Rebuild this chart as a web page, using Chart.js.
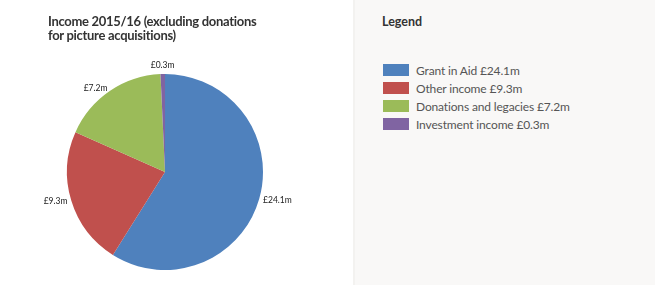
<!DOCTYPE html>
<html>
<head>
<meta charset="utf-8">
<script src="https://cdn.jsdelivr.net/npm/chart.js@4"></script>
<style>
  body { margin: 0; width: 655px; height: 285px; overflow: hidden; background: #fff; font-family: Lato, "Noto Sans", sans-serif; }
  #left { position: absolute; left: 0; top: 0; width: 353px; height: 285px; background: #fff; }
  #right { position: absolute; left: 353px; top: 0; width: 302px; height: 285px; background: #f9f8f7; border-left: 2px solid #f3f2f0; box-sizing: border-box; }
  #title { position: absolute; left: 48px; top: 15px; font-size: 13px; font-weight: 700; line-height: 13.5px; letter-spacing: -0.3px; color: #333; }
  #legendTitle { position: absolute; left: 27px; top: 14px; font-size: 12.5px; font-weight: 700; color: #333; }
  #legend { position: absolute; left: 28px; top: 61px; }
  .row { height: 18px; display: flex; align-items: center; font-size: 12px; letter-spacing: -0.15px; color: #555; }
  .box { width: 26px; height: 12px; margin-right: 7px; }
  #chartWrap { position: absolute; left: 0; top: 0; width: 353px; height: 285px; }
</style>
</head>
<body>
<div id="left">
  <div id="chartWrap"><canvas id="incomeChart"></canvas></div>
  <div id="title">Income 2015/16 (excluding donations<br>for picture acquisitions)</div>
</div>
<div id="right">
  <div id="legendTitle">Legend</div>
  <div id="legend"></div>
</div>
<script>
// Income categories and values (£m)
const categories = ["Grant in Aid", "Other income", "Donations and legacies", "Investment income"];
const values = [24.1, 9.3, 7.2, 0.3];
const colors = ["#4f81bd", "#c0504d", "#9bbb59", "#8064a2"];

function money(v) {
    return "£" + v.toFixed(1) + "m";
}

// Build the legend on the right
const legendEl = document.getElementById("legend");
categories.forEach((name, i) => {
    const row = document.createElement("div");
    row.className = "row";
    row.innerHTML = `<span class="box" style="background:${colors[i]}"></span>${name} ${money(values[i])}`;
    legendEl.appendChild(row);
});

// Draw value labels just outside each slice
const outsideLabels = {
    id: "outsideLabels",
    afterDatasetsDraw(chart) {
        const ctx = chart.ctx;
        const meta = chart.getDatasetMeta(0);
        ctx.save();
        ctx.font = "8.5px Lato, sans-serif";
        ctx.fillStyle = "#222";
        ctx.textBaseline = "middle";
        meta.data.forEach((arc, i) => {
            const mid = (arc.startAngle + arc.endAngle) / 2;
            const r = arc.outerRadius + 4;
            const x = arc.x + Math.cos(mid) * r;
            const y = arc.y + Math.sin(mid) * r;
            const c = Math.cos(mid);
            ctx.textAlign = Math.abs(c) < 0.2 ? "center" : (c > 0 ? "left" : "right");
            ctx.fillText(money(values[i]), x, Math.abs(c) < 0.2 ? y - 5 : y);
        });
        ctx.restore();
    }
};

new Chart(document.getElementById("incomeChart"), {
    type: "pie",
    data: {
        labels: categories,
        datasets: [{
            data: values,
            backgroundColor: colors,
            borderWidth: 0,
        }],
    },
    options: {
        responsive: true,
        maintainAspectRatio: false,
        animation: false,
        layout: { padding: { left: 67, right: 90, top: 74, bottom: 15 } },
        plugins: {
            legend: { display: false },
            tooltip: { enabled: false },
        },
    },
    plugins: [outsideLabels],
});
</script>
</body>
</html>
